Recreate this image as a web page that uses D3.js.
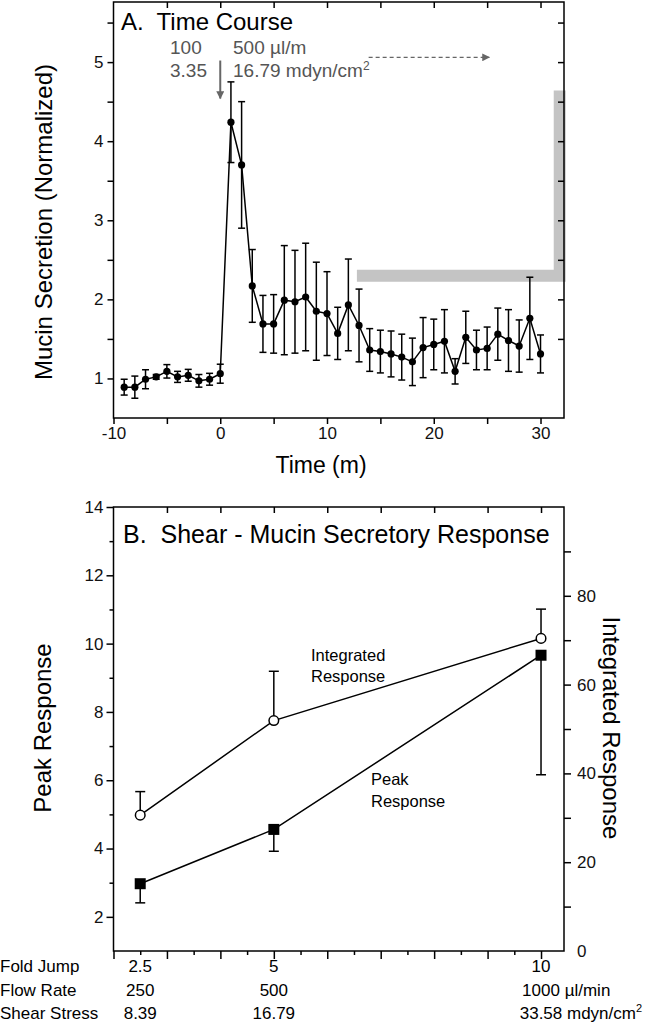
<!DOCTYPE html>
<html><head><meta charset="utf-8">
<script src="https://cdn.jsdelivr.net/npm/d3@7"></script>
<style>
body{margin:0;background:#fff;}
svg{display:block;font-family:"Liberation Sans",Arial,sans-serif;}
</style></head>
<body>
<script>
// ---- Panel A data ----
const timeMin = [-9,-8,-7,-6,-5,-4,-3,-2,-1,0,1,2,3,4,5,6,7,8,9,10,11,12,13,14,15,16,17,18,19,20,21,22,23,24,25,26,27,28,29,30];
const mucin = [0.89,0.89,0.99,1.02,1.09,1.02,1.04,0.97,0.99,1.06,
  4.24,3.70,2.17,1.69,1.69,1.99,1.97,2.03,1.85,1.82,1.57,1.93,1.67,1.36,1.34,1.31,1.27,1.21,1.39,1.43,
  1.47,1.09,1.52,1.36,1.38,1.56,1.48,1.41,1.76,1.31];
const mucinErr = [0.10,0.14,0.12,0.03,0.085,0.07,0.075,0.08,0.075,0.12,
  0.51,0.80,0.46,0.36,0.37,0.69,0.65,0.68,0.62,0.53,0.33,0.58,0.46,0.27,0.27,0.29,0.29,0.30,0.38,0.32,
  0.40,0.16,0.33,0.25,0.27,0.33,0.39,0.33,0.52,0.24];
const timeTicks = [-10,0,10,20,30];
const mucinTicks = [1,2,3,4,5];
const bracket = [[12.8,2.3],[31.8,2.3],[31.8,4.64]];

// ---- Panel B data ----
const foldJump = [2.5,5,10];
const flowRate = ["250","500","1000"];
const shearStress = ["8.39","16.79","33.58"];
const peakResp = [2.97,4.56,9.66];
const peakErr = [0.56,0.64,3.5];
const integResp = [30.6,51.9,70.4];
const integErr = [5.3,11.1,6.6];
const peakTicks = [2,4,6,8,10,12,14];
const integTicks = [0,20,40,60,80];

const W=649,H=1023;
const svg=d3.select("body").append("svg").attr("width",W).attr("height",H);
const FONT="'Liberation Sans',Arial,sans-serif";
const TICKFS=17;

// ================= Panel A =================
const L=113.5,R=564;
const xA=d3.scaleLinear().domain([-10,32.2]).range([L,R]);
const yA=d3.scaleLinear().domain([0.5,5.76]).range([418,2]);
const gA=svg.append("g");

gA.append("path").attr("d",d3.line().x(d=>xA(d[0])).y(d=>yA(d[1]))(bracket))
  .attr("fill","none").attr("stroke","#c4c4c4").attr("stroke-width",12).attr("stroke-linejoin","miter");

gA.append("rect").attr("x",L).attr("y",yA(5.76)).attr("width",R-L).attr("height",yA(0.5)-yA(5.76))
  .attr("fill","none").attr("stroke","#000").attr("stroke-width",1.5);

const ax1=gA.append("g").attr("transform",`translate(0,${yA(0.5)})`)
  .call(d3.axisBottom(xA).tickValues(d3.range(-10,31,5)).tickSize(6).tickPadding(3)
    .tickFormat(d=>timeTicks.includes(d)?d:""));
const ax2=gA.append("g").attr("transform",`translate(0,${yA(5.76)})`)
  .call(d3.axisBottom(xA).tickValues(d3.range(-5,31,5)).tickSize(6).tickFormat(""));
const ax3=gA.append("g").attr("transform",`translate(${L},0)`)
  .call(d3.axisLeft(yA).tickValues(d3.range(1,5.51,0.5)).tickSize(6).tickPadding(4)
    .tickFormat(d=>mucinTicks.includes(d)?d:""));
const ax4=gA.append("g").attr("transform",`translate(${R},0)`)
  .call(d3.axisLeft(yA).tickValues(d3.range(1.5,5.51,0.5)).tickSize(6).tickFormat(""));
[ax1,ax2,ax3,ax4].forEach(a=>{a.select(".domain").remove();
  a.selectAll("line").attr("stroke-width",1.5);
  a.selectAll("text").attr("font-size",TICKFS).attr("font-family",FONT).attr("fill","#111");});

const capA=3.5;
const eb=gA.append("g").attr("stroke","#000").attr("stroke-width",1.5);
timeMin.forEach((t,i)=>{
  const x=xA(t),y1=yA(mucin[i]+mucinErr[i]),y2=yA(mucin[i]-mucinErr[i]);
  eb.append("line").attr("x1",x).attr("x2",x).attr("y1",y1).attr("y2",y2);
  eb.append("line").attr("x1",x-capA).attr("x2",x+capA).attr("y1",y1).attr("y2",y1);
  eb.append("line").attr("x1",x-capA).attr("x2",x+capA).attr("y1",y2).attr("y2",y2);
});
gA.append("path").attr("d",d3.line().x((d,i)=>xA(timeMin[i])).y(d=>yA(d))(mucin))
  .attr("fill","none").attr("stroke","#000").attr("stroke-width",1.5);
gA.selectAll("circle.pt").data(mucin).join("circle")
  .attr("cx",(d,i)=>xA(timeMin[i])).attr("cy",d=>yA(d)).attr("r",3.6).attr("fill","#000");

const defs=svg.append("defs");
defs.append("marker").attr("id","ah").attr("viewBox","0 0 10 10").attr("refX",9).attr("refY",5)
  .attr("markerWidth",5).attr("markerHeight",4).attr("orient","auto").attr("markerUnits","strokeWidth")
  .append("path").attr("d","M0,0L10,5L0,10Z").attr("fill","#666");
defs.append("marker").attr("id","ah2").attr("viewBox","0 0 10 10").attr("refX",9).attr("refY",5)
  .attr("markerWidth",9).attr("markerHeight",6).attr("orient","auto").attr("markerUnits","strokeWidth")
  .append("path").attr("d","M0,0L10,5L0,10Z").attr("fill","#666");
gA.append("line").attr("x1",xA(0)).attr("x2",xA(0)).attr("y1",yA(5.02)).attr("y2",yA(4.54))
  .attr("stroke","#666").attr("stroke-width",2).attr("marker-end","url(#ah)");
gA.append("line").attr("x1",xA(13.9)).attr("x2",xA(25.2)).attr("y1",yA(5.06)).attr("y2",yA(5.06))
  .attr("stroke","#666").attr("stroke-width",1.3).attr("stroke-dasharray","4,3").attr("marker-end","url(#ah2)");

gA.append("text").attr("x",121).attr("y",30).attr("font-size",24).text("A.\u00a0 Time Course");
const ann=gA.append("g").attr("font-size",19).attr("fill","#555");
ann.append("text").attr("x",170).attr("y",54).text("100");
ann.append("text").attr("x",170).attr("y",77).text("3.35");
ann.append("text").attr("x",233).attr("y",54).text("500 µl/m");
const t2=ann.append("text").attr("x",233).attr("y",77).text("16.79 mdyn/cm");
t2.append("tspan").attr("font-size",12).attr("dy",-7).text("2");

gA.append("text").attr("x",xA(10)-6).attr("y",473).attr("text-anchor","middle").attr("font-size",23).text("Time (m)");
gA.append("text").attr("transform","translate(52,222) rotate(-90)").attr("text-anchor","middle")
  .attr("font-size",24).text("Mucin Secretion (Normalized)");

// ================= Panel B =================
const xB=d3.scaleLinear().domain([2,10.43]).range([L,R]);
const yB=d3.scaleLinear().domain([1,14]).range([951,507]);
const yB2=d3.scaleLinear().domain([0,100]).range([951,507]);
const gB=svg.append("g");
gB.append("rect").attr("x",L).attr("y",507).attr("width",R-L).attr("height",951-507)
  .attr("fill","none").attr("stroke","#000").attr("stroke-width",1.5);

const bx1=gB.append("g").attr("transform",`translate(0,951)`)
  .call(d3.axisBottom(xB).tickValues(d3.range(2,10.01,1)).tickSize(8).tickFormat(""));
const bx1m=gB.append("g").attr("transform",`translate(0,951)`)
  .call(d3.axisBottom(xB).tickValues(d3.range(2.5,10,1)).tickSize(4).tickFormat(""));
const bx2=gB.append("g").attr("transform",`translate(0,507)`)
  .call(d3.axisBottom(xB).tickValues(d3.range(3,10.01,1)).tickSize(6).tickFormat(""));
const by1=gB.append("g").attr("transform",`translate(${L},0)`)
  .call(d3.axisLeft(yB).tickValues(peakTicks).tickSize(7).tickPadding(3));
const by1m=gB.append("g").attr("transform",`translate(${L},0)`)
  .call(d3.axisLeft(yB).tickValues(d3.range(3,14,2)).tickSize(4).tickFormat(""));
const by2=gB.append("g").attr("transform",`translate(${R},0)`)
  .call(d3.axisRight(yB2).tickValues(d3.range(10,91,10)).tickSize(7).tickPadding(6)
    .tickFormat(d=>integTicks.includes(d)?d:""));
const by2z=gB.append("g").attr("transform",`translate(${R},0)`)
  .call(d3.axisRight(yB2).tickValues([0]).tickSize(0).tickPadding(13));
[bx1,bx1m,bx2,by1,by1m,by2,by2z].forEach(a=>{a.select(".domain").remove();
  a.selectAll("line").attr("stroke-width",1.5);
  a.selectAll("text").attr("font-size",TICKFS).attr("font-family",FONT).attr("fill","#111");});

const lineB=d3.line().x((d,i)=>xB(foldJump[i]));
const capB=5;
const ebB=gB.append("g").attr("stroke","#000").attr("stroke-width",1.5);
foldJump.forEach((f,i)=>{
  const x=xB(f);
  let y0=yB2(integResp[i]),y1=yB2(integResp[i]+integErr[i]);
  ebB.append("line").attr("x1",x).attr("x2",x).attr("y1",y0).attr("y2",y1);
  ebB.append("line").attr("x1",x-capB).attr("x2",x+capB).attr("y1",y1).attr("y2",y1);
  y0=yB(peakResp[i]);y1=yB(peakResp[i]-peakErr[i]);
  ebB.append("line").attr("x1",x).attr("x2",x).attr("y1",y0).attr("y2",y1);
  ebB.append("line").attr("x1",x-capB).attr("x2",x+capB).attr("y1",y1).attr("y2",y1);
});
gB.append("path").attr("d",lineB.y(d=>yB2(d))(integResp)).attr("fill","none").attr("stroke","#000").attr("stroke-width",1.5);
gB.append("path").attr("d",lineB.y(d=>yB(d))(peakResp)).attr("fill","none").attr("stroke","#000").attr("stroke-width",1.5);
gB.selectAll("circle.ir").data(integResp).join("circle").attr("class","ir")
  .attr("cx",(d,i)=>xB(foldJump[i])).attr("cy",d=>yB2(d)).attr("r",4.8)
  .attr("fill","#fff").attr("stroke","#000").attr("stroke-width",1.5);
gB.selectAll("rect.pr").data(peakResp).join("rect").attr("class","pr")
  .attr("x",(d,i)=>xB(foldJump[i])-5.5).attr("y",d=>yB(d)-5.5).attr("width",11).attr("height",11).attr("fill","#000");

gB.append("text").attr("x",123).attr("y",543).attr("font-size",25).text("B.\u00a0 Shear - Mucin Secretory Response");
const lab=gB.append("g").attr("font-size",16.5);
lab.append("text").attr("x",311).attr("y",661).text("Integrated");
lab.append("text").attr("x",311).attr("y",682).text("Response");
lab.append("text").attr("x",371).attr("y",785).text("Peak");
lab.append("text").attr("x",371).attr("y",807).text("Response");

gB.append("text").attr("transform","translate(51,728) rotate(-90)").attr("text-anchor","middle")
  .attr("font-size",24).text("Peak Response");
gB.append("text").attr("transform","translate(603,728) rotate(90)").attr("text-anchor","middle")
  .attr("font-size",24).text("Integrated Response");

const rows=[["Fold Jump",foldJump.map(String),""],["Flow Rate",flowRate," µl/min"],["Shear Stress",shearStress," mdyn/cm"]];
const rowY=[972,996,1019];
rows.forEach((r,ri)=>{
  gB.append("text").attr("x",0).attr("y",rowY[ri]).attr("font-size",17).text(r[0]);
  r[1].forEach((v,i)=>{
    const t=gB.append("text").attr("y",rowY[ri]).attr("font-size",17).text(v);
    const w=t.node().getComputedTextLength();
    t.attr("x",xB(foldJump[i])-w/2);
    if(i===2 && r[2]){
      t.append("tspan").text(r[2]);
      if(ri===2) t.append("tspan").attr("font-size",11).attr("dy",-7).text("2");
    }
  });
});
</script>
</body></html>
